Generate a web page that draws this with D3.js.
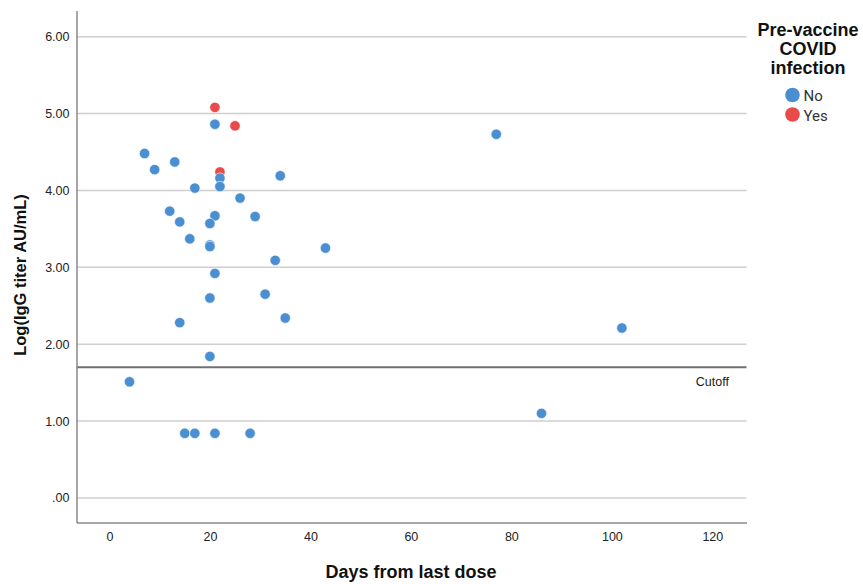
<!DOCTYPE html>
<html>
<head>
<meta charset="utf-8">
<script src="https://cdn.jsdelivr.net/npm/d3@7"></script>
<style>
  body { margin: 0; background: #fff; }
  svg { display: block; font-family: "Liberation Sans", Arial, sans-serif; }
</style>
</head>
<body>
<svg id="chart" width="863" height="584"></svg>
<script>
// days from last dose, log titer, and infection group for each subject
var days   = [21, 21, 25, 7, 9, 13, 22, 22, 34, 17, 22, 26, 12, 21, 29, 14, 20, 16, 20, 20, 33, 21, 31, 20,
              77, 43, 35, 102, 14, 20, 4, 15, 17, 21, 28, 86];
var titers = [5.08, 4.86, 4.84, 4.48, 4.27, 4.37, 4.24, 4.16, 4.19, 4.03, 4.05, 3.90, 3.73, 3.67, 3.66, 3.59, 3.57, 3.37,
              3.29, 3.27, 3.09, 2.92, 2.65, 2.60, 4.73, 3.25, 2.34, 2.21, 2.28, 1.84, 1.51, 0.84, 0.84, 0.84, 0.84, 1.10];
var groups = ["Yes", "No", "Yes", "No", "No", "No", "Yes", "No", "No", "No", "No", "No", "No", "No", "No", "No", "No", "No",
              "No", "No", "No", "No", "No", "No", "No", "No", "No", "No", "No", "No", "No", "No", "No", "No", "No", "No"];

var xTicks = [0, 20, 40, 60, 80, 100, 120];
var yTicks = [0, 1, 2, 3, 4, 5, 6];
var cutoff = 1.70;
var legendKeys = ["No", "Yes"];
var legendColors = ["#4a8fd1", "#ea4a4a"];

var svg = d3.select("#chart");

var x = d3.scaleLinear().domain([-6.55, 126.8]).range([76.5, 746.5]);
var y = d3.scaleLinear().domain([-0.32, 6.34]).range([522.5, 10.5]);
var color = d3.scaleOrdinal().domain(legendKeys).range(legendColors);

// gridlines
svg.append("g").selectAll("line")
   .data(yTicks).enter().append("line")
   .attr("x1", x.range()[0]).attr("x2", x.range()[1])
   .attr("y1", function(d){ return y(d); })
   .attr("y2", function(d){ return y(d); })
   .attr("stroke", "#cfcfcf")
   .attr("stroke-width", 1.5);

// cutoff reference line
svg.append("line")
   .attr("x1", x.range()[0]).attr("x2", x.range()[1])
   .attr("y1", y(cutoff)).attr("y2", y(cutoff))
   .attr("stroke", "#717171")
   .attr("stroke-width", 2);

svg.append("text")
   .attr("x", x(120)).attr("y", y(cutoff) + 18.5)
   .attr("text-anchor", "middle")
   .attr("font-size", 12.5)
   .attr("fill", "#222")
   .text("Cutoff");

// axes
var fmtY = function(d){ return d3.format(".2f")(d).replace(/^0\./, "."); };

var gx = svg.append("g")
   .attr("transform", "translate(0," + y.range()[0] + ")")
   .call(d3.axisBottom(x).tickValues(xTicks).tickSize(0).tickPadding(10));
var gy = svg.append("g")
   .attr("transform", "translate(" + x.range()[0] + ",0)")
   .call(d3.axisLeft(y).tickValues(yTicks).tickFormat(fmtY).tickSize(0).tickPadding(7));

[gx, gy].forEach(function(g){
  g.select(".domain").attr("stroke", "#8a8a8a").attr("stroke-width", 1.5);
  g.selectAll("text").attr("font-size", 12.5).attr("fill", "#222")
   .attr("font-family", "'Liberation Sans', Arial, sans-serif");
});

// points
svg.append("g").selectAll("circle")
   .data(days.map(function(d, i){ return {d: d, t: titers[i], g: groups[i]}; }))
   .enter().append("circle")
   .attr("cx", function(p){ return x(p.d); })
   .attr("cy", function(p){ return y(p.t); })
   .attr("r", 5.2)
   .attr("fill", function(p){ return color(p.g); })
   .attr("stroke", "#fff")
   .attr("stroke-opacity", 0.6)
   .attr("stroke-width", 1);

// axis titles
svg.append("text")
   .attr("x", 411).attr("y", 578)
   .attr("text-anchor", "middle")
   .attr("font-size", 18).attr("font-weight", "bold").attr("fill", "#111")
   .text("Days from last dose");

svg.append("text")
   .attr("transform", "translate(26,275) rotate(-90)")
   .attr("text-anchor", "middle")
   .attr("font-size", 16.5).attr("font-weight", "bold").attr("fill", "#111")
   .text("Log(IgG titer AU/mL)");

// legend
var legTitle = ["Pre-vaccine", "COVID", "infection"];
svg.append("g").selectAll("text")
   .data(legTitle).enter().append("text")
   .attr("x", 808)
   .attr("y", function(d, i){ return 36 + i * 19; })
   .attr("text-anchor", "middle")
   .attr("font-size", 18).attr("font-weight", "bold").attr("fill", "#111")
   .text(function(d){ return d; });

var leg = svg.append("g").selectAll("g")
   .data(legendKeys).enter().append("g")
   .attr("transform", function(d, i){ return "translate(792.5," + (95 + i * 19.5) + ")"; });
leg.append("circle").attr("r", 7.3).attr("fill", function(d){ return color(d); });
leg.append("text")
   .attr("x", 11).attr("y", 6)
   .attr("font-family", "Roboto, sans-serif")
   .attr("font-size", 15).attr("fill", "#333")
   .text(function(d){ return d; });
</script>
</body>
</html>
